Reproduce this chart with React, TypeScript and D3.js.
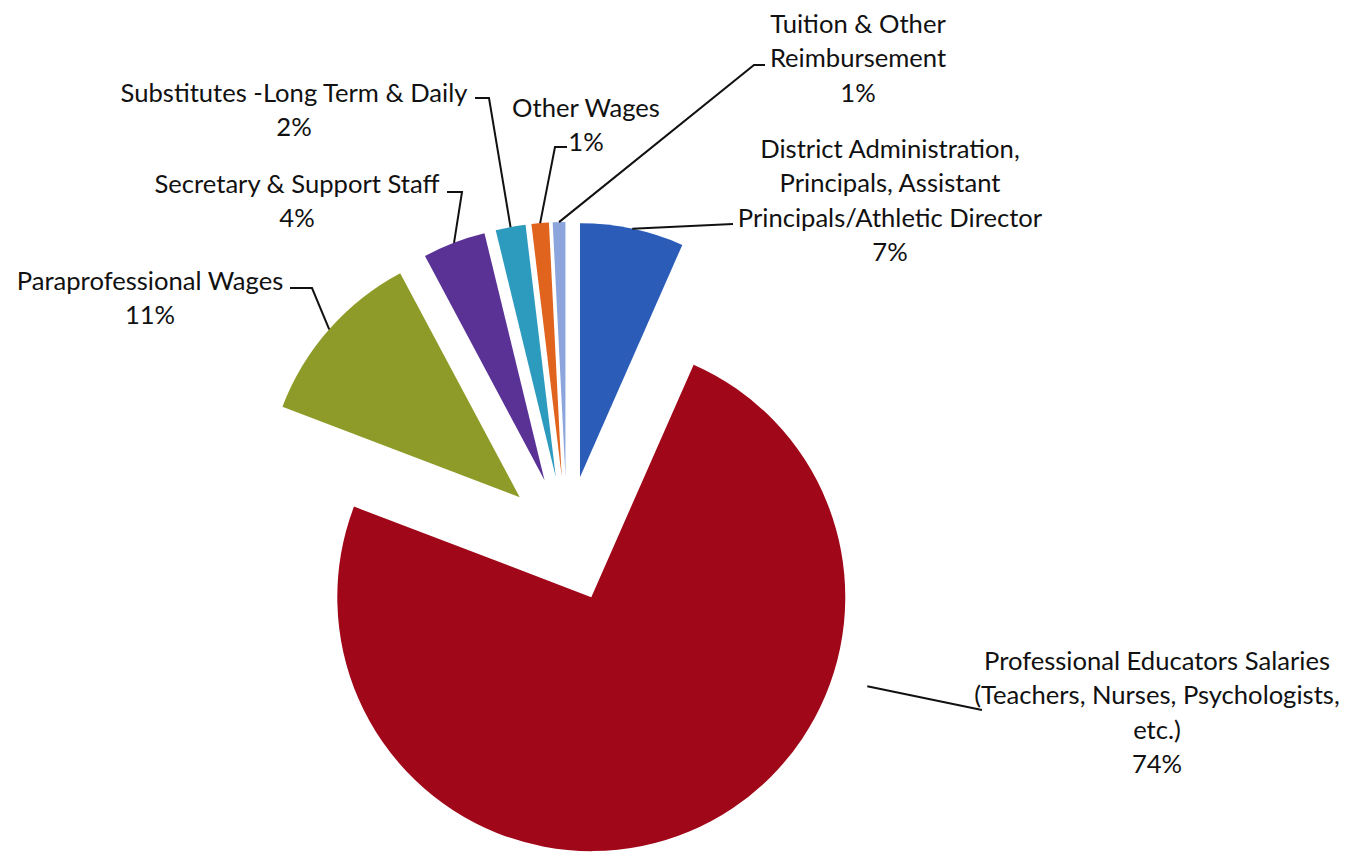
import React from 'react';
import * as d3 from 'd3';

// slice order: clockwise from 12 o'clock
const categories = [
  'District Administration',
  'Professional Educators Salaries',
  'Paraprofessional Wages',
  'Secretary & Support Staff',
  'Substitutes',
  'Other Wages',
  'Tuition & Other Reimbursement',
];
const shares = [6.6, 74.2, 11.4, 4.0, 1.9, 1.1, 0.8];
const labelLines = [
  ['District Administration,', 'Principals, Assistant', 'Principals/Athletic Director'],
  ['Professional Educators Salaries', '(Teachers, Nurses, Psychologists,', 'etc.)'],
  ['Paraprofessional Wages'],
  ['Secretary & Support Staff'],
  ['Substitutes -Long Term & Daily'],
  ['Other Wages'],
  ['Tuition & Other', 'Reimbursement'],
];
const colors = ['#2B5CB8', '#A0081A', '#8E9B28', '#5A3296', '#2D9BBE', '#E1641E', '#8CA5DC'];

// label layout: text centre, first line y, leader bend points
interface LabelLayout {
  x: number;
  y: number;
  leader: [number, number][];
  from?: { angle: number; r: number }; // leader start when not on the arc middle
}
const layout: LabelLayout[] = [
  { x: 890, y: 149, leader: [[733, 224]] },
  { x: 1157, y: 661, leader: [[982, 710]], from: { angle: 107.9, r: 290 } },
  { x: 150, y: 281, leader: [[312, 288], [290, 288]] },
  { x: 297, y: 184, leader: [[462, 192], [447, 192]] },
  { x: 294, y: 93, leader: [[489, 98], [475, 98]] },
  { x: 586, y: 108, leader: [[555, 147], [567, 147]] },
  { x: 858, y: 24, leader: [[754, 65], [765, 65]] },
];

const W = 1353;
const H = 857;
const cx = 567;
const cy = 539;
const R = 254;
const explode = 63;
const lineH = 34.5;
const font = 'Lato, "Open Sans", sans-serif';

export default function App() {
  const pie = d3.pie<number>().sort(null).value(d => d).startAngle(0).endAngle(2 * Math.PI);
  const arcs = pie(shares);
  const arc = d3.arc<d3.PieArcDatum<number>>().innerRadius(0).outerRadius(R);
  const total = d3.sum(shares);

  const offsetOf = (a: d3.PieArcDatum<number>) => {
    const mid = (a.startAngle + a.endAngle) / 2;
    return [Math.sin(mid) * explode, -Math.cos(mid) * explode];
  };

  return (
    <svg width={W} height={H} style={{ position: 'absolute', left: 0, top: 0, background: '#fff' }}>
      <g transform={`translate(${cx},${cy})`}>
        {arcs.map((a, i) => {
          const [dx, dy] = offsetOf(a);
          return (
            <path key={categories[i]} d={arc(a) || ''} fill={colors[i]} transform={`translate(${dx},${dy})`} />
          );
        })}
      </g>
      {arcs.map((a, i) => {
        const [dx, dy] = offsetOf(a);
        const lay = layout[i];
        const ang = lay.from ? (lay.from.angle * Math.PI) / 180 : (a.startAngle + a.endAngle) / 2;
        const rr = lay.from ? lay.from.r : R;
        const start: [number, number] = [cx + dx + Math.sin(ang) * rr, cy + dy - Math.cos(ang) * rr];
        const pts = [start, ...lay.leader];
        const lines = [...labelLines[i], `${Math.round((shares[i] / total) * 100)}%`];
        return (
          <g key={'lbl' + i}>
            <path d={d3.line()(pts) || ''} fill="none" stroke="#111" strokeWidth={2} />
            <text x={lay.x} textAnchor="middle" fontFamily={font} fontSize={25.6} fill="#111">
              {lines.map((t, j) => (
                <tspan key={j} x={lay.x} y={lay.y + j * lineH} dy="0.35em">
                  {t}
                </tspan>
              ))}
            </text>
          </g>
        );
      })}
    </svg>
  );
}
